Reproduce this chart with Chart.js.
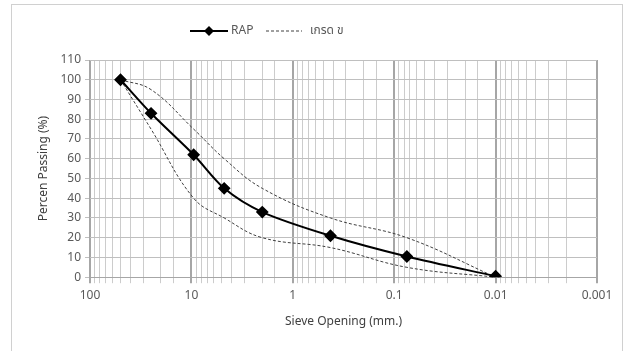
<!DOCTYPE html>
<html>
<head>
<meta charset="utf-8">
<script src="https://cdn.jsdelivr.net/npm/chart.js@4"></script>
<style>
  html, body { margin: 0; padding: 0; background: #fff; }
  #wrap { position: relative; width: 625px; height: 351px; overflow: hidden; }
  #frame { position: absolute; left: 11px; top: 4px; width: 610px; height: 400px; border: 1px solid #d0d0d0; }
  #myChart { position: absolute; left: 0; top: 0; }
</style>
</head>
<body>
<div id="wrap">
  <div id="frame"></div>
  <canvas id="myChart" width="625" height="351"></canvas>
</div>
<script>
const ctx = document.getElementById('myChart').getContext('2d');

// datos
const sieveSizes = [50, 25, 9.5, 4.75, 2.0, 0.425, 0.075, 0.01];
const rapPassing = [100, 83, 62, 45, 33, 21, 10.5, 0.5];
const specUpper = [100, 95, 75, 60, 45, 30, 20, 0];
const specLower = [100, 75, 40, 30, 20, 15, 5, 0];
const xTickLabels = [100, 10, 1, 0.1, 0.01, 0.001];
const legendNames = ['RAP', 'เกรด ข'];

const fontFamily = '"Noto Sans", "Noto Sans Thai", Tahoma, sans-serif';

function pares(ys) {
    return sieveSizes.map((x, i) => ({ x: x, y: ys[i] }));
}

function esDecada(v) {
    return xTickLabels.some(t => Math.abs(t - v) < t * 1e-6);
}

// leyenda dibujada a mano
const leyenda = {
    id: 'leyenda',
    afterDraw(chart) {
        const c = chart.ctx;
        const y = 31;
        c.save();
        c.strokeStyle = '#000';
        c.lineWidth = 2;
        c.beginPath();
        c.moveTo(190, y);
        c.lineTo(228, y);
        c.stroke();
        c.fillStyle = '#000';
        c.beginPath();
        c.moveTo(209, y - 5);
        c.lineTo(214, y);
        c.lineTo(209, y + 5);
        c.lineTo(204, y);
        c.closePath();
        c.fill();
        c.strokeStyle = '#404040';
        c.lineWidth = 1;
        c.setLineDash([3, 2]);
        c.beginPath();
        c.moveTo(266, y);
        c.lineTo(302, y);
        c.stroke();
        c.setLineDash([]);
        c.fillStyle = '#595959';
        c.font = '12px ' + fontFamily;
        c.textBaseline = 'middle';
        c.fillText(legendNames[0], 231, y);
        c.fillText(legendNames[1], 310, y);
        c.restore();
    }
};

const data = {
    datasets: [{
        label: legendNames[0],
        data: pares(rapPassing),
        borderColor: '#000',
        backgroundColor: '#000',
        borderWidth: 2,
        pointStyle: 'rectRot',
        pointRadius: 5,
        tension: 0.3
    }, {
        label: legendNames[1],
        data: pares(specUpper),
        borderColor: '#404040',
        borderWidth: 1,
        borderDash: [3, 2],
        pointRadius: 0,
        tension: 0.4
    }, {
        label: legendNames[1] + ' ',
        data: pares(specLower),
        borderColor: '#404040',
        borderWidth: 1,
        borderDash: [3, 2],
        pointRadius: 0,
        tension: 0.4
    }]
};

const config = {
    type: 'line',
    data: data,
    options: {
        responsive: false,
        animation: false,
        layout: { padding: { top: 60, left: 32, right: 28, bottom: 18 } },
        plugins: {
            legend: { display: false },
            tooltip: { enabled: false }
        },
        scales: {
            x: {
                type: 'logarithmic',
                reverse: true,
                min: 0.001,
                max: 100,
                border: { color: '#a6a6a6' },
                grid: {
                    color: c => esDecada(c.tick.value) ? '#a6a6a6' : '#cccccc',
                    lineWidth: c => esDecada(c.tick.value) ? 2 : 1,
                    tickLength: 6
                },
                ticks: {
                    autoSkip: false,
                    maxRotation: 0,
                    color: '#595959',
                    font: { family: fontFamily, size: 12 },
                    padding: 5,
                    callback: v => esDecada(v) ? String(v) : ''
                },
                title: {
                    display: true,
                    text: 'Sieve Opening (mm.)',
                    color: '#404040',
                    font: { family: fontFamily, size: 12 },
                    padding: { top: 7 }
                }
            },
            y: {
                min: 0,
                max: 110,
                border: { color: '#a6a6a6' },
                grid: { color: '#bfbfbf', tickLength: 5 },
                ticks: {
                    stepSize: 10,
                    color: '#595959',
                    font: { family: fontFamily, size: 12 },
                    padding: 4
                },
                title: {
                    display: true,
                    text: 'Percen Passing (%)',
                    color: '#404040',
                    font: { family: fontFamily, size: 12 },
                    padding: { bottom: 6 }
                }
            }
        }
    },
    plugins: [leyenda]
};

const myChart = new Chart(ctx, config);
</script>
</body>
</html>
